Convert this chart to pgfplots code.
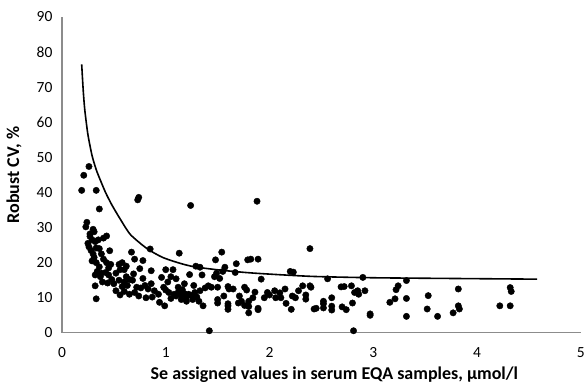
\documentclass[border=0pt]{standalone}
\usepackage{fontspec}
\setmainfont{Carlito}
\usepackage{pgfplots}
\pgfplotsset{compat=1.18}
\begin{document}
\begin{tikzpicture}
\begin{axis}[
  scale only axis, width=519pt, height=316pt,
  xmin=0, xmax=5, ymin=0, ymax=90,
  axis x line*=bottom, axis y line*=left,
  axis line style={-, draw=black!45, line width=1.1pt},
  xtick={0,1,2,3,4,5}, ytick={0,10,20,30,40,50,60,70,80,90},
  major tick length=0pt, minor tick num=0,
  /pgf/number format/assume math mode=true,
  tick label style={font=\fontsize{15.5}{17}\selectfont, black},
  xticklabel style={yshift=-11pt},
  yticklabel style={xshift=-6pt},
  xlabel={Se assigned values in serum EQA samples, µmol/l},
  ylabel={Robust CV, \%},
  label style={font=\fontsize{18}{20}\selectfont\bfseries},
  x label style={at={(axis description cs:0.525,0)}, anchor=center, yshift=-42pt},
  y label style={at={(axis description cs:0,0.5)}, anchor=center, yshift=48pt},
  clip=false,
]
\path (rel axis cs:0,0) ++(-62pt,-51pt) rectangle ++(588pt,384pt);
\addplot[only marks, mark=*, mark size=3.2pt, black] coordinates {
(0.19,40.6)(0.21,44.9)(0.26,47.4)(0.33,40.6)(0.36,35.3)(0.24,31.5)(0.23,30.2)(0.30,29.5)(0.31,28.8)(0.27,27.5)
(0.29,26.5)(0.25,25.5)(0.32,26.0)(0.35,26.5)(0.40,27.0)(0.43,27.6)(0.26,24.5)(0.28,23.5)(0.30,22.5)(0.31,21.5)
(0.33,24.2)(0.38,22.5)(0.46,23.4)(0.29,20.5)(0.33,20.0)(0.36,18.8)(0.34,17.5)(0.38,17.0)(0.32,16.5)(0.37,16.0)
(0.43,20.0)(0.45,18.5)(0.47,19.5)(0.42,17.2)(0.45,16.5)(0.48,15.2)(0.44,14.2)(0.32,13.4)(0.33,9.7)(0.40,21.0)
(0.39,14.5)(0.36,24.0)(0.27,28.2)
(0.52,17.0)(0.50,14.0)(0.55,19.5)(0.56,18.0)(0.58,20.0)(0.60,18.0)(0.55,15.0)(0.58,13.2)(0.60,14.5)(0.62,16.0)
(0.63,13.5)(0.65,15.2)(0.62,19.0)(0.67,23.0)(0.70,21.0)(0.73,37.9)(0.74,38.6)(0.78,20.6)(0.85,23.9)(0.75,18.3)
(0.68,15.0)(0.69,16.8)(0.72,13.0)(0.70,11.5)(0.65,11.0)(0.56,10.8)(0.74,10.5)(0.81,10.0)(0.87,10.2)(0.80,13.5)
(0.83,12.5)(0.86,14.0)(0.89,12.0)(0.86,17.7)(0.78,15.5)(0.52,12.0)(0.60,11.8)(0.76,12.8)
(0.94,8.7)(0.99,7.7)(0.96,15.8)(1.00,18.0)(1.07,18.0)(1.05,16.0)(1.10,15.4)(0.98,13.0)(1.00,12.2)(1.03,11.5)
(1.08,11.0)(1.10,10.5)(1.12,11.5)(1.15,10.8)(1.18,11.2)(1.20,10.3)(1.22,11.0)(1.25,10.6)(1.28,11.5)(1.30,10.2)
(1.13,22.7)(1.24,36.3)(1.23,16.6)(1.29,19.0)(1.33,18.7)(1.15,9.5)(1.20,9.0)(1.26,9.5)(1.32,9.0)(1.36,7.7)
(1.05,9.8)(1.12,13.0)(1.18,14.0)(1.27,13.5)(1.33,12.0)(1.38,12.8)(0.93,11.0)(1.02,14.5)(1.35,16.5)(1.16,12.3)
(1.42,0.6)(1.41,13.4)(1.44,13.0)(1.50,13.0)(1.47,16.0)(1.49,17.0)(1.52,15.5)(1.55,17.5)(1.48,20.8)(1.54,23.0)
(1.57,18.7)(1.67,17.2)(1.68,19.7)(1.60,13.2)(1.61,12.5)(1.65,12.5)(1.76,13.0)(1.78,12.2)(1.86,11.6)(1.79,20.8)
(1.82,21.0)(1.89,21.0)(1.88,37.5)(1.92,15.3)(1.50,8.5)(1.50,9.5)(1.60,8.3)(1.60,7.7)(1.60,6.7)(1.70,8.5)
(1.73,9.0)(1.76,7.8)(1.80,7.5)(1.80,9.0)(1.80,5.7)(1.89,7.0)(1.89,6.6)(1.95,10.0)(1.98,11.5)(1.71,10.5)
(1.84,10.0)(1.56,10.5)
(2.00,10.8)(2.06,10.0)(2.10,11.4)(2.11,10.0)(2.16,8.4)(2.21,6.7)(2.20,17.5)(2.23,17.3)(2.22,10.5)(2.25,10.0)
(2.32,13.4)(2.39,13.4)(2.35,10.8)(2.35,9.6)(2.39,24.0)(2.43,6.8)(2.45,7.0)(2.40,13.0)(2.52,9.0)(2.52,8.3)
(2.52,7.1)(2.56,15.4)(2.60,10.0)(2.60,7.6)(2.60,6.5)(2.15,12.5)(2.28,12.0)(2.05,12.0)
(2.69,13.1)(2.72,13.2)(2.79,13.4)(2.70,7.4)(2.74,6.6)(2.80,8.5)(2.81,0.6)(2.82,11.5)(2.85,12.0)(2.86,11.0)
(2.92,12.0)(2.90,15.8)(2.97,5.4)(2.97,5.0)
(3.16,8.7)(3.21,9.7)(3.22,12.3)(3.24,13.4)(3.32,14.9)(3.32,9.8)(3.32,4.7)(3.53,10.6)(3.52,6.8)(3.62,4.7)
(3.77,5.7)(3.82,12.5)(3.82,7.7)(3.83,6.8)(4.22,7.7)(4.32,7.7)(4.32,12.9)(4.33,11.8)
};
\addplot[black, line width=1.6pt, smooth, tension=0.4] coordinates {
(0.19,76.5)(0.205,69)(0.22,63.5)(0.25,56.5)(0.29,50.5)(0.33,46.5)(0.37,43.5)(0.42,40)(0.48,36.5)(0.56,32.5)
(0.66,28)(0.82,24)(0.97,21.5)(1.14,19.8)(1.28,18.8)(1.55,17.8)(1.86,17)(2.4,16.1)(3.0,15.7)(3.74,15.5)(4.58,15.3)
};
\end{axis}
\end{tikzpicture}
\end{document}
